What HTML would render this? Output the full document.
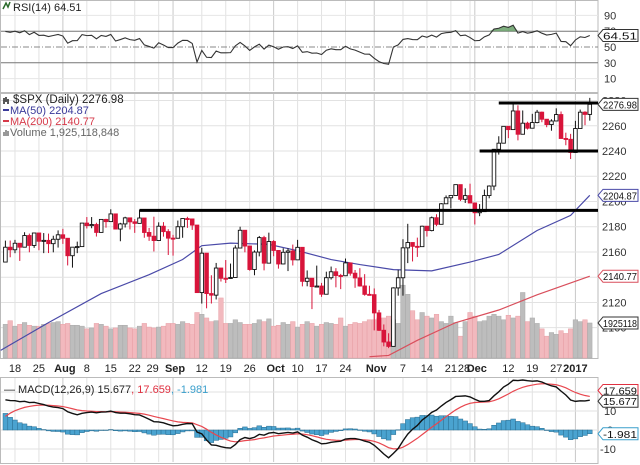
<!DOCTYPE html>
<html><head><meta charset="utf-8"><style>
html,body{margin:0;padding:0;background:#fff;}
svg{display:block;font-family:"Liberation Sans",sans-serif;}
</style></head><body>
<svg id="chart" width="640" height="465" viewBox="0 0 640 465" xmlns="http://www.w3.org/2000/svg"></svg>
<script>
// ---- data ----
const closes = [2163.75,2161.74,2166.89,2163.78,2173.02,2165.17,2175.03,2168.48,2169.18,2166.58,2170.06,2173.60,
2170.84,2157.03,2163.79,2164.25,2182.87,2180.89,2181.74,2175.49,2185.79,2184.05,2190.15,2178.15,2182.22,2187.02,2183.87,2182.64,2186.90,2175.44,2172.47,2169.04,2180.38,2176.12,2170.95,
2170.86,2179.98,2186.48,2186.16,2181.30,2127.81,2159.04,2127.02,2125.77,2147.26,2139.16,2139.12,2139.76,2163.12,2177.18,2164.69,2146.10,2159.93,2171.37,2151.13,2168.27,
2161.20,2150.49,2159.73,2160.77,2153.74,2163.66,2136.73,2139.18,2132.55,2132.98,2126.50,2139.60,2144.29,2141.34,2141.16,2151.33,2143.16,2139.43,2133.04,2126.41,2126.15,
2111.72,2097.94,2088.66,2085.18,2131.52,2139.56,2163.26,2167.48,2164.45,2164.20,2180.39,2176.94,2187.12,2181.90,2198.18,2202.94,2204.72,2213.35,2201.72,2204.66,2198.81,
2191.08,2191.95,2204.71,2212.23,2241.35,2246.19,2259.53,2256.96,2271.72,2253.28,2262.03,2258.07,2262.53,2270.76,2265.18,2260.96,2263.79,2268.88,2249.92,2249.26,2238.83,
2257.83,2270.75,2269.00,2276.98];
const firstOpen = 2152.00;
const highs = [2168.99,2169.05,2169.60,2163.79,2175.63,2174.56,2175.11,2173.71,2174.98,2174.54,2172.85,2177.09,
2178.29,2168.09,2163.79,2168.19,2182.87,2187.66,2187.66,2183.15,2185.79,2186.28,2193.81,2186.28,2183.08,2187.89,2185.44,2186.07,2193.42,2186.66,2179.00,2187.94,2183.48,2183.64,2178.08,
2173.56,2184.87,2186.57,2187.87,2184.94,2173.49,2163.30,2149.26,2141.55,2151.31,2138.48,2153.61,2150.80,2165.26,2179.99,2172.40,2162.19,2161.28,2172.67,2172.81,2175.30,
2169.34,2161.56,2162.93,2162.93,2165.86,2169.60,2161.56,2145.36,2138.19,2149.19,2135.49,2144.38,2148.44,2147.18,2142.63,2154.79,2151.52,2145.73,2147.13,2142.42,2133.25,
2131.10,2114.09,2102.56,2095.57,2132.00,2145.85,2170.10,2182.30,2165.92,2171.36,2180.84,2179.22,2188.06,2189.89,2198.70,2204.80,2204.72,2213.35,2211.14,2210.46,2214.10,
2198.81,2197.95,2209.42,2212.78,2241.63,2251.69,2259.80,2258.74,2277.53,2276.20,2272.12,2263.18,2269.47,2272.56,2271.23,2263.79,2265.15,2273.82,2271.31,2254.51,2253.58,
2263.88,2272.82,2271.50,2282.10];
const lows = [2152.49,2155.79,2159.01,2152.90,2164.39,2159.75,2163.24,2161.35,2159.07,2159.13,2159.70,2163.49,
2166.38,2149.33,2147.58,2159.07,2168.50,2178.61,2178.81,2172.22,2176.06,2179.23,2184.89,2178.15,2168.50,2179.39,2177.85,2175.13,2186.80,2171.25,2168.80,2160.39,2170.74,2172.14,2157.60,
2157.09,2173.59,2171.25,2179.07,2177.49,2127.81,2119.12,2115.34,2119.13,2122.36,2136.56,2135.39,2139.17,2139.57,2170.88,2159.73,2145.20,2141.55,2156.51,2145.43,2156.51,
2156.61,2146.79,2150.28,2144.85,2149.29,2156.08,2132.72,2132.80,2114.72,2132.98,2124.43,2135.49,2138.15,2131.98,2130.55,2146.91,2141.23,2131.59,2132.52,2125.36,2125.53,
2097.85,2097.40,2085.23,2083.79,2085.18,2125.35,2125.37,2151.17,2152.49,2156.08,2166.38,2172.20,2176.35,2180.46,2182.82,2201.37,2194.51,2205.24,2200.36,2198.81,2198.81,
2181.80,2188.37,2199.97,2202.52,2208.93,2237.15,2249.23,2250.18,2260.83,2248.44,2254.80,2257.04,2259.72,2261.94,2262.80,2258.84,2256.08,2266.15,2249.80,2244.56,2233.62,
2245.13,2261.60,2260.45,2264.06];
const volumes = [1.85,2.05,1.75,1.85,1.95,1.8,1.75,1.75,1.85,1.9,1.95,2.0,
1.85,1.9,1.8,1.8,1.75,1.6,1.65,1.9,1.85,1.75,1.6,1.65,1.8,1.8,1.65,1.6,1.75,1.9,1.7,1.65,1.7,1.75,1.9,
1.9,1.85,2.0,1.9,1.85,2.5,2.4,2.2,2.0,2.05,3.3,1.9,1.9,2.1,1.95,1.85,1.85,1.9,2.1,2.0,2.15,
1.75,1.8,1.95,1.85,2.0,1.7,1.85,2.0,1.9,1.75,1.85,1.95,1.9,1.85,2.2,1.75,1.85,1.95,1.9,2.0,2.1,
2.1,2.2,2.2,2.3,2.1,1.9,4.0,3.5,2.6,2.1,2.5,2.3,2.2,2.4,2.0,1.9,2.3,1.95,1.2,2.0,2.5,
2.3,2.0,2.05,2.3,2.4,2.3,2.1,2.35,2.2,2.3,3.6,2.0,2.2,1.9,1.6,1.2,1.4,1.3,1.5,1.35,1.6,
2.1,2.0,2.1,1.925];
const ma50Idx = [-1,9,20,30,37,41,47,55,61,68,74,81,89,97,103,111,118,122];
const ma50Val = [2082,2104,2127,2142,2154,2165,2167,2166,2161,2154,2150,2146,2145,2152,2158,2177,2189,2204.87];
const ma200Idx = [76,80,86,94,103,111,122];
const ma200Val = [2077,2078,2090,2104,2114,2126,2140.77];
const xLabels = ["18","25","Aug","8","15","22","29","Sep","12","19","26","Oct","10","17","24","Nov","7","14","21","28","Dec","12","19","27","2017"];
const xLabelIdx = [2,7,12,17,22,27,32,35,41,46,51,56,61,66,71,77,83,88,93,97,98,105,110,115,119];
const priceTicks = [2280,2260,2240,2220,2200,2180,2160,2140,2120,2100];
const rsiTicks = [90,70,50,30,10];
const macdTicks = [20,10,0,-10];
const hLines = [2193,2240,2278];
const hLineStart = [28,99,103];

// ---- scales ----
const X0 = 5.4, DX = 4.79, RIGHT = 598;
const xs = i => X0 + i*DX;
const yp = p => 151 - (p-2240)*1.262;
const yr = v => 47 - (v-50)*0.79;
const ym = v => 430 - v*1.9;
const yv = v => 358 - v*18.2;

const svg = document.getElementById('chart');
const NS = 'http://www.w3.org/2000/svg';
function mk(tag, attrs, parent){
  const e = document.createElementNS(NS, tag);
  for (const k in attrs) e.setAttribute(k, attrs[k]);
  (parent||svg).appendChild(e);
  return e;
}
function txt(s, x, y, attrs, parent){
  const t = mk('text', Object.assign({x:x,y:y,'font-size':11,fill:'#222'}, attrs), parent);
  t.textContent = s; return t;
}

// panels
const panels = [[0,92,'rsi-panel'],[93,358,'price-panel'],[377,463,'macd-panel']];
panels.forEach(p=>{
  const r = mk('rect',{x:0.5,y:p[0]+0.5,width:RIGHT-0.5,height:p[1]-p[0],fill:'#fff',stroke:'#bbb'});
  
  
});

// vertical grid
const vg = mk('g',{});


xLabelIdx.forEach((ix,k)=>{
  const x = xs(ix);
  const month = isNaN(+xLabels[k]) || xLabels[k]==='2017';
  const c = month ? '#c8c8c8' : '#e2e2e2';
  [[1,91],[94,357],[378,462]].forEach(s=>mk('line',{x1:x,x2:x,y1:s[0],y2:s[1],stroke:c,'stroke-width':1},vg));
});

// horizontal grid
const hg = mk('g',{});


priceTicks.forEach(p=>mk('line',{x1:1,x2:RIGHT,y1:yp(p),y2:yp(p),stroke:'#e2e2e2'},hg));
[90,10].forEach(v=>mk('line',{x1:1,x2:RIGHT,y1:yr(v),y2:yr(v),stroke:'#e6e6e6'},hg));
macdTicks.forEach(v=>mk('line',{x1:1,x2:RIGHT,y1:ym(v),y2:ym(v),stroke:'#e2e2e2'},hg));

// axis labels
const ax = mk('g',{'font-size':11,fill:'#333'});


priceTicks.forEach(p=>txt(String(p),602,yp(p)+4,{fill:'#333'},ax));
rsiTicks.forEach(v=>txt(String(v),604,yr(v)+4,{fill:'#333'},ax));
macdTicks.forEach(v=>txt(String(v),v<0?600:(v<10?607:604),ym(v)+4,{fill:'#333'},ax));

const xa = mk('g',{});


xLabels.forEach((s,k)=>{
  const month = isNaN(+s) || s==='2017';
  let x = xs(xLabelIdx[k]);
  if (s==='29'||s==='28') x -= 6;
  if (month && s!=='2017') x += 2;
  const t = txt(s,x,372,{'text-anchor':'middle','font-size':11,'font-weight':month?'bold':'normal',fill:'#222'},xa);
  
  
});

// ---- RSI ----
let ag = 6, al = 3;
const rsi = [];
for (let i=0;i<closes.length;i++){
  const prev = i===0 ? firstOpen : closes[i-1];
  const d = closes[i]-prev;
  ag = (ag*13 + Math.max(d,0))/14;
  al = (al*13 + Math.max(-d,0))/14;
  rsi.push(100 - 100/(1+ag/al));
}
[70,30].forEach(v=>{
  const l = mk('line',{x1:1,x2:RIGHT,y1:yr(v),y2:yr(v),stroke:'#777','stroke-width':1});
  
  
});
const l50 = mk('line',{x1:1,x2:RIGHT,y1:yr(50),y2:yr(50),stroke:'#888','stroke-dasharray':'6,2,1,2'});


let fillPts = [];
rsi.forEach((v,i)=>{ fillPts.push(xs(i)+','+yr(Math.max(v,70))); });
const rf = mk('polygon',{points: xs(0)+','+yr(70)+' '+fillPts.join(' ')+' '+xs(rsi.length-1)+','+yr(70), fill:'#5e9a5e', opacity:0.8});


const rl = mk('polyline',{points: rsi.map((v,i)=>xs(i)+','+yr(v)).join(' '), fill:'none', stroke:'#333','stroke-width':1.1});


const rt = txt('RSI(14) 64.51',13,11,{'font-size':11,fill:'#222'});


mk('path',{d:'M3 9 L6 3 L8 7 L10 2',fill:'none',stroke:'#2a6a2a','stroke-width':1.5});

// ---- volume ----
const vgp = mk('g',{});


volumes.forEach((v,i)=>{
  const prev = i===0 ? firstOpen : closes[i-1];
  const up = closes[i] >= prev;
  const b = mk('rect',{x:xs(i)-2.3,y:yv(v),width:4.6,height:358-yv(v),fill:up?'#bdbdbd':'#f2b9be',stroke:up?'#aaa':'#e8a0a6','stroke-width':0.5},vgp);
  
  
});

// ---- MAs ----
const m50 = mk('polyline',{points: ma50Idx.map((ix,k)=>xs(ix)+','+yp(ma50Val[k])).join(' '),fill:'none',stroke:'#4a4aa8','stroke-width':1.2});


const m200 = mk('polyline',{points: ma200Idx.map((ix,k)=>xs(ix)+','+yp(ma200Val[k])).join(' '),fill:'none',stroke:'#d94f5c','stroke-width':1.2});



// ---- candles ----
const cg = mk('g',{});


closes.forEach((c,i)=>{
  const o = i===0 ? firstOpen : closes[i-1];
  const up = c >= o;
  const col = up ? '#111' : '#d8143a';
  const hi = Math.max(highs[i],o,c), lo = Math.min(lows[i],o,c);
  const g = mk('g',{},cg);
  
  
  mk('line',{x1:xs(i),x2:xs(i),y1:yp(hi),y2:yp(lo),stroke:col,'stroke-width':1},g);
  const top = yp(Math.max(o,c)), h = Math.max(1,Math.abs(yp(o)-yp(c)));
  mk('rect',{x:xs(i)-1.8,y:top,width:3.6,height:h,fill:up?'#fff':col,stroke:col,'stroke-width':0.9},g);
});

// ---- annotation lines ----
hLines.forEach((p,k)=>{
  const l = mk('line',{x1:xs(hLineStart[k]),x2:RIGHT,y1:yp(p),y2:yp(p),stroke:'#000','stroke-width':3});
  
  
});

// legend
const lg = mk('g',{'font-size':10.5});


txt('$SPX (Daily) 2276.98',13,103,{'font-size':11.5,fill:'#222'},lg);
mk('path',{d:'M4 98 v6 M6 97 v5 M8 99 v5',stroke:'#222','stroke-width':1.5},lg);
mk('line',{x1:3,x2:9,y1:110,y2:110,stroke:'#3a3a9a','stroke-width':2},lg);
txt('MA(50) 2204.87',10,114,{fill:'#3a3a9a'},lg);
mk('line',{x1:3,x2:9,y1:121,y2:121,stroke:'#d63a4a','stroke-width':2},lg);
txt('MA(200) 2140.77',10,125,{fill:'#d63a4a'},lg);
mk('path',{d:'M4 136 v-4 M6 136 v-6 M8 136 v-5',stroke:'#777','stroke-width':1.5},lg);
txt('Volume 1,925,118,848',10,136,{fill:'#666'},lg);

// ---- MACD ----
let e12 = 2150, e26 = 2134, sig = 5;
const macd = [], signal = [];
closes.forEach(c=>{
  e12 = e12 + (c-e12)*2/13;
  e26 = e26 + (c-e26)*2/27;
  const m = e12-e26;
  sig = sig + (m-sig)*2/10;
  macd.push(m); signal.push(sig);
});
const hgp = mk('g',{});


macd.forEach((m,i)=>{
  const h = m - signal[i];
  const y1 = ym(Math.max(h,0)), y2 = ym(Math.min(h,0));
  const b = mk('rect',{x:xs(i)-2.4,y:y1,width:4.8,height:Math.max(0.5,y2-y1),fill:'#4aa3d0',stroke:'#2a6d90','stroke-width':0.5},hgp);
  
  
});
const sl = mk('polyline',{points: signal.map((v,i)=>xs(i)+','+ym(v)).join(' '),fill:'none',stroke:'#e8474f','stroke-width':1.2});


const ml = mk('polyline',{points: macd.map((v,i)=>xs(i)+','+ym(v)).join(' '),fill:'none',stroke:'#111','stroke-width':1.4});


const mt = mk('text',{x:4,y:393,'font-size':11,fill:'#222'});


mt.innerHTML = '<tspan>&#8212; MACD(12,26,9) 15.677</tspan><tspan fill="#e03040">, 17.659</tspan><tspan fill="#3a9fcc">, -1.981</tspan>';

// ---- value tags ----
function tag(label, y, stroke, name){
  const g = mk('g',{});
  
  
  mk('path',{d:`M598 ${y} L603 ${y-6} H638 V${y+6} H603 Z`,fill:'#fff',stroke:stroke,'stroke-width':1},g);
  txt(label,603,y+4,{'font-size':10.5,fill:'#111',textLength:34,lengthAdjust:'spacingAndGlyphs'},g);
}
tag('64.51', yr(64.51), '#333', 'rsi-value-tag');
tag('2276.98', yp(2276.98), '#333', 'price-value-tag');
tag('2204.87', yp(2204.87), '#4a4aa8', 'ma50-value-tag');
tag('2140.77', yp(2140.77), '#d94f5c', 'ma200-value-tag');
tag('1925118', yv(1.925), '#333', 'volume-value-tag');
tag('17.659', ym(17.659)-6, '#e03040', 'signal-value-tag');
tag('15.677', ym(15.677)+1, '#333', 'macd-value-tag');
tag('-1.981', ym(-1.981), '#3a9fcc', 'histogram-value-tag');
</script>
</body></html>
